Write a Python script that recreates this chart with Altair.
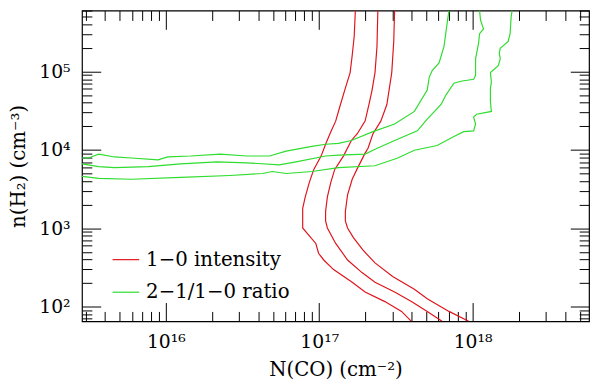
import altair as alt
import pandas as pd

# ---- contour data: N(CO) [cm^-2], n(H2) [cm^-3] ----
red1_N = [1.72e17, 1.69e17, 1.64e17, 1.59e17, 1.48e17, 1.375e17, 1.28e17, 1.19e17, 1.10e17,
          1.03e17, 9.2e16, 8.6e16, 8.1e16, 7.8e16, 7.8e16, 8.4e16, 9.5e16, 9.9e16, 1.07e17,
          1.24e17, 1.64e17, 1.99e17, 2.68e17, 3.44e17, 3.99e17]
red1_n = [6.0e5, 2.8e5, 1.6e5, 9.7e4, 6.15e4, 3.8e4, 2.33e4, 1.7e4, 1.18e4,
          8.4e3, 5.6e3, 3.8e3, 2.5e3, 1.8e3, 1.01e3, 850, 640, 480, 394,
          297, 205, 154, 116, 87, 65]

red2_N = [2.41e17, 2.38e17, 2.31e17, 2.21e17, 2.11e17, 1.99e17, 1.77e17, 1.62e17, 1.44e17,
          1.26e17, 1.19e17, 1.13e17, 1.10e17, 1.10e17, 1.13e17, 1.28e17, 1.53e17, 1.90e17,
          2.31e17, 3.10e17, 3.99e17, 5.06e17, 6.32e17]
red2_n = [6.0e5, 2.1e5, 9.7e4, 5.8e4, 3.8e4, 2.33e4, 1.61e4, 1.32e4, 8.4e3,
          5.6e3, 3.86e3, 2.52e3, 1.64e3, 1.24e3, 1.01e3, 641, 394, 272,
          205, 154, 116, 87, 65]

red3_N = [3.10e17, 3.06e17, 2.97e17, 2.76e17, 2.52e17, 2.24e17, 2.08e17, 1.99e17, 1.77e17,
          1.64e17, 1.53e17, 1.48e17, 1.48e17, 1.53e17, 1.67e17, 1.93e17, 2.31e17, 3.01e17,
          4.17e17, 5.06e17, 7.01e17, 9.43e17]
red3_n = [6.0e5, 2.42e5, 9.7e4, 3.8e4, 2.33e4, 1.61e4, 1.05e4, 9.1e3, 5.77e3,
          4.22e3, 2.67e3, 1.64e3, 1.24e3, 1.01e3, 760, 525, 362, 243,
          167, 126, 87, 65]

green1_N = [2.84e15, 3.06e15, 3.25e15, 3.65e15, 4.63e15, 5.96e15, 8.88e15, 1.03e16, 1.45e16,
            2.26e16, 3.37e16, 4.73e16, 6.09e16, 8.95e16, 1.10e17, 1.335e17, 1.62e17, 2.24e17,
            3.10e17, 4.17e17, 5.06e17, 5.21e17, 5.45e17, 6.04e17, 6.51e17, 6.81e17, 7.01e17]
green1_n = [7.89e3, 7.89e3, 8.13e3, 8.85e3, 8.13e3, 7.89e3, 7.45e3, 8.13e3, 8.36e3,
            8.85e3, 8.36e3, 8.36e3, 9.64e3, 1.11e4, 1.18e4, 1.21e4, 1.32e4, 1.71e4,
            2.14e4, 3.10e4, 5.8e4, 8.43e4, 1.03e5, 1.29e5, 2.10e5, 4.05e5, 6.0e5]

green2_N = [2.84e15, 3.65e15, 4.63e15, 7.66e15, 1.25e16, 2.16e16, 3.37e16, 5.49e16, 7.06e16,
            1.10e17, 1.335e17, 1.99e17, 2.31e17, 3.10e17, 4.36e17, 5.06e17, 6.23e17, 6.71e17,
            7.55e17, 8.37e17, 1.015e18, 1.045e18, 1.045e18, 1.093e18, 1.11e18, 1.177e18,
            1.126e18, 1.11e18]
green2_n = [6.65e3, 6.11e3, 5.93e3, 6.11e3, 6.65e3, 7.05e3, 6.84e3, 6.46e3, 7.05e3,
            8.36e3, 8.59e3, 8.85e3, 1.02e4, 1.32e4, 1.75e4, 2.47e4, 3.8e4, 5.05e4,
            7.1e4, 7.52e4, 7.96e4, 8.92e4, 1.45e5, 2.29e5, 3.04e5, 3.51e5,
            4.54e5, 6.0e5]

green3_N = [2.84e15, 3.65e15, 5.96e15, 1.25e16, 2.62e16, 4.27e16, 4.95e16, 6.09e16, 8.95e16,
            1.335e17, 2.31e17, 3.25e17, 4.17e17, 5.87e17, 7.55e17, 8.75e17, 1.015e18, 1.045e18,
            1.015e18, 1.061e18, 1.325e18, 1.306e18, 1.306e18, 1.325e18, 1.306e18, 1.47e18,
            1.514e18, 1.492e18, 1.514e18, 1.704e18, 1.756e18, 1.782e18, 1.808e18]
green3_n = [4.59e3, 4.33e3, 4.22e3, 4.46e3, 4.72e3, 5.00e3, 5.30e3, 5.00e3, 5.30e3,
            5.93e3, 6.28e3, 7.89e3, 9.91e3, 1.14e4, 1.48e4, 1.71e4, 1.75e4, 2.14e4,
            2.62e4, 2.85e4, 3.10e4, 4.13e4, 6.15e4, 7.31e4, 9.7e4, 1.19e5,
            1.45e5, 1.72e5, 1.98e5, 2.42e5, 3.04e5, 4.94e5, 6.0e5]

kinds = ["1−0 intensity", "2−1/1−0 ratio"]
colors = ["#e0141c", "#2edd2e"]

x_domain = [2.84e15, 5.74e18]
y_domain = [65, 6.0e5]
x_major = [1e16, 1e17, 1e18]
x_major_labels = ["10¹⁶", "10¹⁷", "10¹⁸"]
y_major = [1e2, 1e3, 1e4, 1e5]
y_major_labels = ["10²", "10³", "10⁴", "10⁵"]
x_title = "N(CO)  (cm⁻²)"
y_title = "n(H₂)  (cm⁻³)"

def minor_ticks(lo, hi, exps):
    out = []
    for e in exps:
        for k in range(2, 10):
            v = float(k) * 10.0 ** e
            if lo <= v <= hi:
                out.append(v)
    return out

x_minor = minor_ticks(*x_domain, range(15, 19))
y_minor = minor_ticks(*y_domain, range(1, 6))

lines = [("r1", kinds[0], red1_N, red1_n), ("r2", kinds[0], red2_N, red2_n),
         ("r3", kinds[0], red3_N, red3_n), ("g1", kinds[1], green1_N, green1_n),
         ("g2", kinds[1], green2_N, green2_n), ("g3", kinds[1], green3_N, green3_n)]
rows = []
for name, kind, Ns, ns in lines:
    for i, (a, b) in enumerate(zip(Ns, ns)):
        rows.append({"line": name, "kind": kind, "N": a, "n": b, "i": i})
df = pd.DataFrame(rows)

FONT = "DejaVu Serif"
MAJ, MIN = 19, 10

def label_expr(values, labels):
    expr = "''"
    for v, lab in reversed(list(zip(values, labels))):
        expr = f"abs(datum.value/{v:g} - 1) < 0.01 ? '{lab}' : " + expr
    return expr

def make_axis(orient, values, size, labels=None, title=None, label_padding=10, title_padding=8):
    kw = dict(orient=orient, values=values, tickSize=size, offset=-size, domain=False,
              grid=False, ticks=True, tickColor="black", tickWidth=1)
    if labels is not None:
        kw.update(labels=True, labelExpr=label_expr(values, labels), labelFont=FONT,
                  labelFontSize=19, labelColor="black", labelPadding=label_padding,
                  labelFlush=False, labelOverlap=False)
    else:
        kw.update(labels=False)
    if title is not None:
        kw.update(title=title, titleFont=FONT, titleFontSize=20, titleFontWeight="normal",
                  titleColor="black", titlePadding=title_padding)
    else:
        kw.update(title=None)
    return alt.Axis(**kw)

xs = alt.Scale(type="log", domain=x_domain, nice=False)
ys = alt.Scale(type="log", domain=y_domain, nice=False)

def layer(xaxis, yaxis, visible):
    enc = dict(
        x=alt.X("N:Q", scale=xs, axis=xaxis),
        y=alt.Y("n:Q", scale=ys, axis=yaxis),
        detail="line:N",
        order="i:Q",
    )
    if visible:
        enc["color"] = alt.Color("kind:N", scale=alt.Scale(domain=kinds, range=colors),
                                 legend=alt.Legend(orient="none", legendX=30, legendY=238,
                                                   title=None, symbolType="stroke",
                                                   symbolSize=729, symbolStrokeWidth=1.2,
                                                   labelFont=FONT, labelFontSize=20,
                                                   labelColor="black", rowPadding=8,
                                                   labelOffset=6, padding=0))
        mark = alt.Chart(df).mark_line(clip=True, strokeWidth=1.2)
    else:
        mark = alt.Chart(df).mark_line(clip=True, strokeWidth=1, opacity=0)
    return mark.encode(**enc)

l1 = layer(make_axis("bottom", x_major, MAJ, x_major_labels, x_title, 12, 8),
           make_axis("left", y_major, MAJ, y_major_labels, y_title, 12, 10), True)
l2 = layer(make_axis("bottom", x_minor, MIN), make_axis("left", y_minor, MIN), False)
l3 = layer(make_axis("top", x_major, MAJ), make_axis("right", y_major, MAJ), False)
l4 = layer(make_axis("top", x_minor, MIN), make_axis("right", y_minor, MIN), False)

chart = alt.layer(l1, l2, l3, l4).resolve_axis(
    x="independent", y="independent"
).properties(
    width=514, height=315,
    padding={"left": 75, "top": 0, "right": 3, "bottom": 65},
    autosize=alt.AutoSizeParams(type="none"),
    background="white",
).configure_view(stroke="black", strokeWidth=1.2)

chart.save("out.html", embed_options={"renderer": "svg", "actions": False})
